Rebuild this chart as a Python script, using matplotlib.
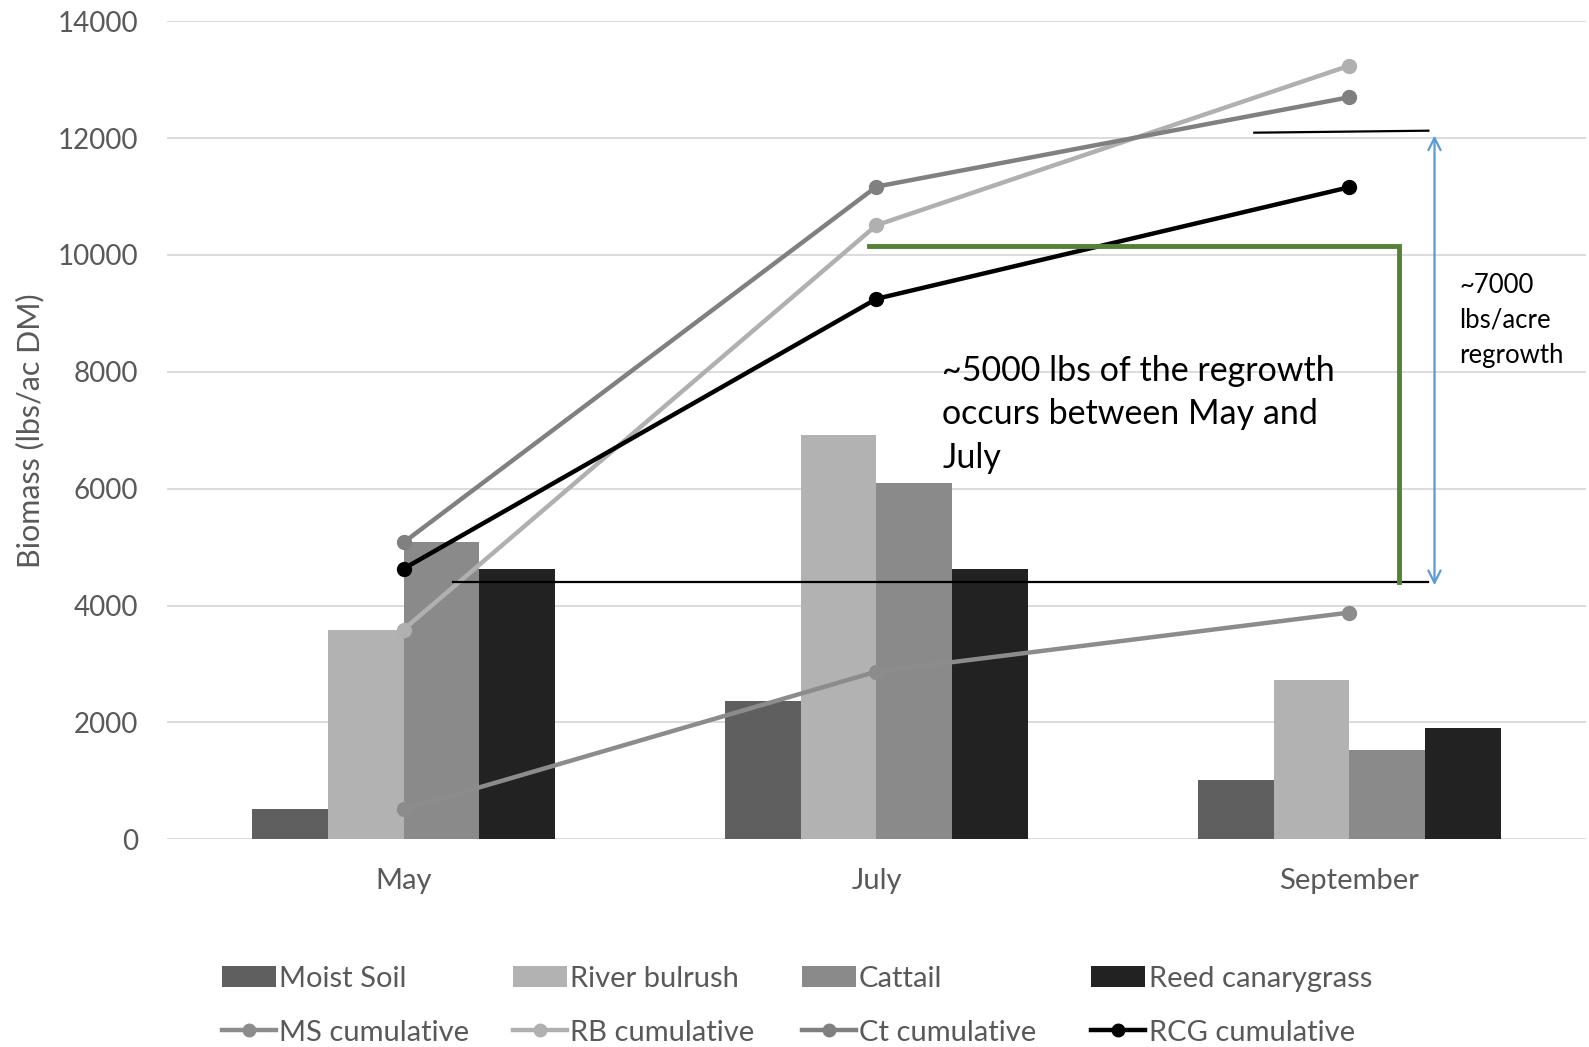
import numpy as np
import matplotlib
matplotlib.use("Agg")
import matplotlib.pyplot as plt
from matplotlib.lines import Line2D
from matplotlib.patches import Patch

# Harvest months and per-harvest biomass (lbs/ac dry matter)
months = ["May", "July", "September"]
moist_soil = [510, 2360, 1010]
river_bulrush = [3590, 6920, 2720]
cattail = [5080, 6090, 1530]
reed_canarygrass = [4630, 4620, 1910]

# Running totals across the season
ms_cumulative = [510, 2870, 3880]
rb_cumulative = [3590, 10510, 13240]
ct_cumulative = [5080, 11170, 12700]
rcg_cumulative = [4630, 9250, 11160]

bar_series = [
    ("Moist Soil", moist_soil, "#5f5f5f"),
    ("River bulrush", river_bulrush, "#b2b2b2"),
    ("Cattail", cattail, "#8a8a8a"),
    ("Reed canarygrass", reed_canarygrass, "#222222"),
]
line_series = [
    ("MS cumulative", ms_cumulative, "#8c8c8c"),
    ("RB cumulative", rb_cumulative, "#b0b0b0"),
    ("Ct cumulative", ct_cumulative, "#808080"),
    ("RCG cumulative", rcg_cumulative, "#000000"),
]

FONT = ["Lato", "DejaVu Sans"]
plt.rcParams["font.family"] = FONT
TEXT_GREY = "#595959"

fig = plt.figure(figsize=(15.89, 10.47), dpi=100)
ax = fig.add_axes([0.1052, 0.1984, 0.8928, 0.7813])

x = np.arange(len(months))
width = 0.16
offsets = (np.arange(4) - 1.5) * width
for (name, vals, col), off in zip(bar_series, offsets):
    ax.bar(x + off, vals, width, color=col, label=name, zorder=2)

for name, vals, col in line_series:
    ax.plot(x, vals, color=col, lw=3.2, marker="o", ms=10, label=name, zorder=3,
            solid_capstyle="round")

ax.set_xlim(-0.5, 2.5)
ax.set_ylim(0, 14000)
ax.set_yticks(np.arange(0, 14001, 2000))
ax.set_xticks(x)
ax.set_xticklabels(months)
ax.grid(axis="y", color="#d9d9d9", lw=1.3, zorder=0)
ax.set_axisbelow(True)
for s in ax.spines.values():
    s.set_visible(False)
ax.tick_params(axis="both", length=0, labelcolor=TEXT_GREY)
ax.tick_params(axis="x", pad=21, labelsize=21)
ax.tick_params(axis="y", pad=21, labelsize=20)
ax.set_ylabel("Biomass (lbs/ac DM)", fontsize=22, color=TEXT_GREY, labelpad=9)

# Regrowth annotations drawn in data space
ax.plot([0.105, 2.167], [4400, 4400], color="black", lw=1.6, zorder=4, clip_on=False)
ax.plot([1.799, 2.167], [12093, 12127], color="black", lw=1.6, zorder=4, clip_on=False)
ax.plot([0.985, 2.105, 2.105], [10149, 10149, 4400], color="#548235", lw=3.5,
        zorder=4, solid_joinstyle="miter")
ax.annotate("", xy=(2.180, 4300), xytext=(2.180, 12093),
            arrowprops=dict(arrowstyle="<->", color="#5b9bd5", lw=1.6,
                            mutation_scale=22), zorder=4)
ax.text(1.139, 7270, "~5000 lbs of the regrowth\noccurs between May and\nJuly",
        fontsize=24.5, color="black", va="center", ha="left", linespacing=1.46,
        zorder=5)
ax.text(2.233, 8883, "~7000\nlbs/acre\nregrowth", fontsize=18.5, color="black",
        va="center", ha="left", linespacing=1.5, zorder=5)

# Legend: four columns, bar on top row and its cumulative line below
col_x = [219, 506, 791, 1077]
for i in range(4):
    bname, _, bcol = bar_series[i]
    lname, _, lcol = line_series[i]
    handles = [Patch(facecolor=bcol, edgecolor="none"),
               Line2D([0], [0], color=lcol, lw=3.2, marker="o", ms=9)]
    fig.legend(handles, [bname, lname], loc="upper left",
               bbox_to_anchor=(col_x[i] / 1568, 1 - 953 / 1033),
               frameon=False, fontsize=21, labelcolor=TEXT_GREY,
               handlelength=1.85, handleheight=0.75, handletextpad=0.12,
               labelspacing=0.95, borderaxespad=0, borderpad=0)

fig.savefig("out.png", dpi=100)
